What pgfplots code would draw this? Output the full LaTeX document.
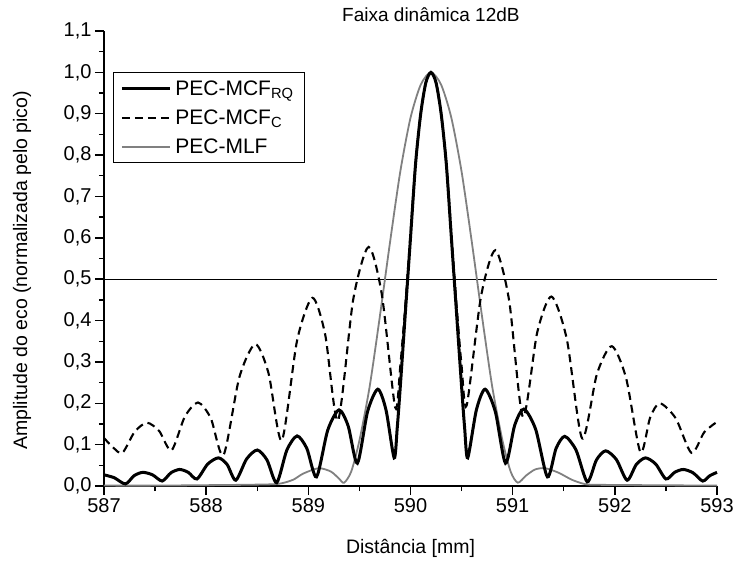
\documentclass[border=0pt]{standalone}
\usepackage{pgfplots}
\pgfplotsset{compat=1.18}
\usepackage{fontspec}
\setmainfont{Liberation Sans}
\definecolor{mlfgray}{RGB}{128,128,128}
\begin{document}
\begin{tikzpicture}
\path[use as bounding box] (-104bp,-75bp) rectangle (632bp,486bp);
\begin{axis}[
  at={(0,0)}, anchor=south west,
  scale only axis, width=613bp, height=455bp,
  xmin=587, xmax=593, ymin=0, ymax=1.1,
  enlargelimits=false, clip=false,
  axis x line*=bottom, axis y line*=left,
  axis line style={line width=1.6bp, -},
  tick align=outside,
  major tick length=9bp, minor tick length=5bp,
  every tick/.style={black, line width=1.4bp},
  xtick={587,588,589,590,591,592,593},
  ytick={0,0.1,0.2,0.3,0.4,0.5,0.6,0.7,0.8,0.9,1.0,1.1},
  minor x tick num=1, minor y tick num=1,
  /pgf/number format/assume math mode=true,
  yticklabel style={/pgf/number format/.cd, fixed, fixed zerofill, precision=1, use comma},
  xticklabel style={/pgf/number format/.cd, fixed, precision=0, set thousands separator={}},
  tick label style={font=\fontsize{20bp}{24bp}\selectfont},
  xlabel={Distância [mm]},
  ylabel={Amplitude do eco (normalizada pelo pico)},
  label style={font=\fontsize{19.5bp}{23bp}\selectfont},
  xlabel style={at={(axis description cs:0.5,0)}, anchor=base, yshift=-67bp},
  ylabel style={at={(axis description cs:-0.1256,0.474)}, anchor=base, rotate=0},
  title={Faixa dinâmica 12dB},
  title style={at={(axis cs:590.2,1.1)}, anchor=base, yshift=4bp, font=\fontsize{19bp}{23bp}\selectfont},
  legend style={at={(rel axis cs:0.0147,0.91)}, anchor=north west, draw=black, line width=0.8bp,
    font=\fontsize{21bp}{25bp}\selectfont, row sep=9bp, inner xsep=7bp, inner ysep=6bp,
    nodes={inner xsep=4bp}},
  legend cell align=left,
  reverse legend,
  legend image code/.code={\draw[#1] (0bp,0bp) -- (48bp,0bp);},
]
% 0.5 reference line
\addplot[black, line width=0.9bp, forget plot] coordinates {(587,0.5) (593,0.5)};

% PEC-MLF
\addplot[mlfgray, line width=1.8bp, smooth, tension=0.45] coordinates {
(587.00,0.001) (587.50,0.001) (588.00,0.002) (588.40,0.003) (588.70,0.005)
(588.85,0.015) (588.95,0.030) (589.10,0.043) (589.22,0.035) (589.30,0.018) (589.35,0.008)
(589.42,0.035) (589.50,0.110) (589.60,0.240) (589.70,0.410) (589.80,0.590) (589.90,0.760)
(590.00,0.890) (590.10,0.970) (590.20,1.000) (590.30,0.970) (590.40,0.890) (590.50,0.760)
(590.60,0.590) (590.70,0.410) (590.80,0.240) (590.90,0.110) (590.98,0.035) (591.05,0.008)
(591.13,0.025) (591.22,0.040) (591.32,0.043) (591.45,0.032) (591.58,0.015) (591.70,0.005)
(591.80,0.003) (592.30,0.002) (593.00,0.001)
};
\addlegendentry{PEC-MLF}

% PEC-MCF_C (dashed)
\addplot[black, line width=2.1bp, dash pattern=on 8bp off 5bp, smooth, tension=0.45] coordinates {
(587.00,0.116) (587.09,0.093) (587.18,0.080) (587.30,0.131) (587.42,0.153)
(587.54,0.133) (587.66,0.086) (587.79,0.167) (587.92,0.202) (588.045,0.164)
(588.17,0.075) (588.325,0.263) (588.48,0.343) (588.61,0.273) (588.74,0.110)
(588.89,0.352) (589.04,0.455) (589.165,0.366) (589.29,0.158) (589.44,0.452)
(589.59,0.578) (589.72,0.462) (589.85,0.190)
(589.90,0.290) (589.95,0.440) (590.00,0.610) (590.05,0.780) (590.10,0.900) (590.15,0.975)
(590.20,1.000)
(590.25,0.975) (590.30,0.900) (590.35,0.780) (590.40,0.610) (590.45,0.440) (590.50,0.290)
(590.55,0.195) (590.69,0.458) (590.83,0.570) (590.965,0.449) (591.10,0.167)
(591.24,0.371) (591.38,0.458) (591.53,0.355) (591.68,0.115) (591.825,0.271)
(591.97,0.338) (592.11,0.261) (592.25,0.082) (592.345,0.165) (592.44,0.200)
(592.595,0.164) (592.75,0.080) (592.875,0.130) (593.00,0.155)
};
\addlegendentry{PEC-MCF\textsubscript{C}}

% PEC-MCF_RQ (solid)
\addplot[black, line width=3bp, smooth, tension=0.45] coordinates {
(587.00,0.027) (587.10,0.020) (587.21,0.005) (587.295,0.025) (587.38,0.033)
(587.475,0.027) (587.57,0.012) (587.655,0.032) (587.74,0.040) (587.825,0.033)
(587.91,0.017) (588.015,0.053) (588.12,0.068) (588.205,0.052) (588.29,0.014)
(588.395,0.065) (588.50,0.087) (588.595,0.063) (588.69,0.008) (588.79,0.087)
(588.89,0.121) (588.985,0.091) (589.08,0.022) (589.19,0.135) (589.30,0.184)
(589.39,0.145) (589.48,0.055) (589.58,0.180) (589.68,0.234) (589.76,0.184)
(589.84,0.068)
(589.87,0.140) (589.90,0.240) (589.95,0.420) (590.00,0.600) (590.05,0.780) (590.10,0.900)
(590.15,0.975) (590.20,1.000) (590.25,0.975) (590.30,0.900) (590.35,0.780) (590.40,0.600)
(590.45,0.420) (590.50,0.240) (590.53,0.140)
(590.56,0.068) (590.645,0.184) (590.73,0.234) (590.83,0.180) (590.93,0.055)
(591.02,0.147) (591.11,0.186) (591.225,0.137) (591.34,0.022) (591.425,0.091)
(591.51,0.120) (591.62,0.087) (591.73,0.010) (591.82,0.063) (591.91,0.085)
(592.015,0.064) (592.12,0.014) (592.21,0.052) (592.30,0.068) (592.40,0.053)
(592.50,0.017) (592.585,0.033) (592.67,0.040) (592.765,0.032) (592.86,0.012)
(592.93,0.025) (593.00,0.033)
};
\addlegendentry{PEC-MCF\textsubscript{RQ}}
\end{axis}
\end{tikzpicture}
\end{document}
